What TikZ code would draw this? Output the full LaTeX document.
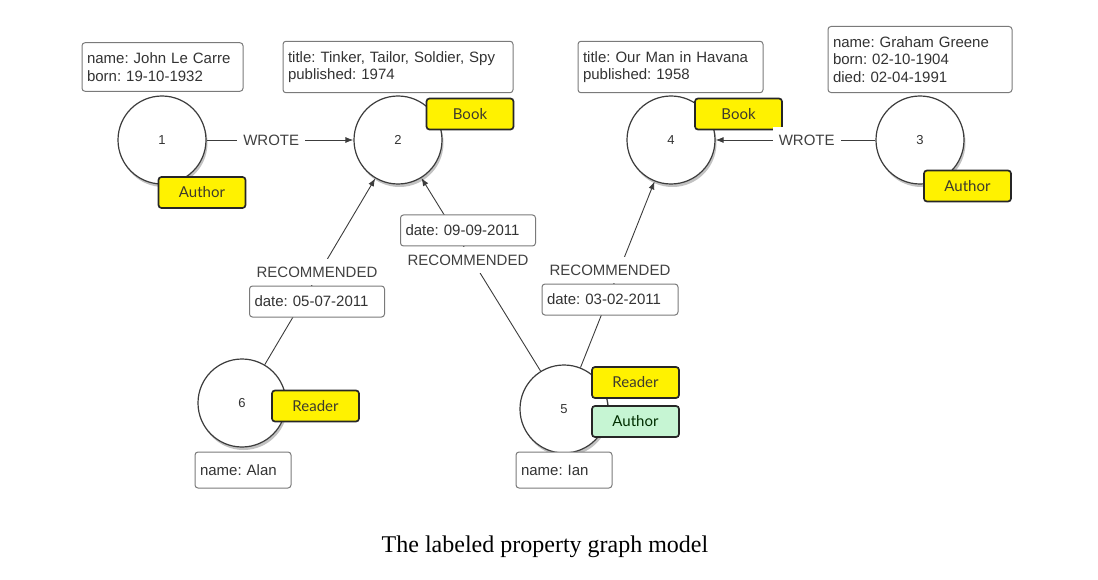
\documentclass[tikz,border=0pt]{standalone}
\usepackage{fontspec}
\setmainfont{Liberation Sans}
\newfontfamily\tagfont{Lato}
\newfontfamily\capfont{Liberation Serif}
\usetikzlibrary{arrows.meta, shadows, positioning}
\definecolor{tagyellow}{HTML}{FFF200}
\definecolor{taggreen}{HTML}{C6F5D3}
\definecolor{edgegray}{HTML}{3C3C3C}
\definecolor{boxgray}{HTML}{7A7A7A}

\begin{document}
\frenchspacing
\begin{tikzpicture}[x = 1pt, y = -1pt,
    vertex/.style = {circle, draw = edgegray, line width = 1.2pt, fill = white, minimum size = 88pt, text = black!80, font = \fontsize{13}{15}\selectfont, drop shadow = {opacity = .4, fill = black!60, shadow xshift = 1.5pt, shadow yshift = -3pt}},
    prop/.style = {draw = boxgray, line width = 1pt, rounded corners = 3pt, fill = white, align = left, inner xsep = 5pt, inner ysep = 10pt, text = black!80, font = \fontsize{15}{17.5}\selectfont},
    tag/.style = {draw = black!85, line width = 1.7pt, rounded corners = 3pt, fill = tagyellow, text = black!75!olive, minimum width = 87pt, minimum height = 31pt, font = \tagfont\fontsize{15}{17}\selectfont},
    rel/.style = {draw = edgegray, line width = .9pt, -{Latex[length = 8pt, width = 6pt]}},
    reltext/.style = {fill = white, inner xsep = 6pt, inner ysep = 8pt, text = black!75, font = \fontsize{15}{17}\selectfont}]
    \useasboundingbox (0,0) rectangle (1098,580);
    % Nodes
    \node[vertex] (n1) at (162,140) {1};
    \node[vertex] (n2) at (398,140) {2};
    \node[vertex] (n4) at (671,140) {4};
    \node[vertex] (n3) at (920,140) {3};
    \node[vertex] (n6) at (242,403) {6};
    \node[vertex] (n5) at (564,409) {5};
    % Labels
    \node[tag] (t1) at (202,192.5) {Author};
    \node[tag] (t2) at (470,114) {Book};
    \node[tag] (t4) at (738.5,114) {Book};
    \node[tag] (t3) at (967.5,186) {Author};
    \node[tag] (t6) at (315.5,406) {Reader};
    \node[tag] (t5r) at (635.5,382.5) {Reader};
    \node[tag, fill = taggreen, text = black!70!green!60!black] (t5a) at (635.5,421.5) {Author};
    % Properties
    \node[prop, text width = 151pt] (p1) at (162.5,67) {name: John Le Carre\\born: 19-10-1932};
    \node[prop, text width = 220pt] (p2) at (398,67) {title: Tinker, Tailor, Soldier, Spy\\published: 1974};
    \node[prop, text width = 175pt] (p4) at (670.5,67) {title: Our Man in Havana\\published: 1958};
    \node[prop, text width = 174pt] (p3) at (920,59.5) {name: Graham Greene\\born: 02-10-1904\\died: 02-04-1991};
    \node[prop, text width = 86pt, minimum height = 36pt] (p6) at (243,470) {name: Alan};
    \node[prop, text width = 86pt, minimum height = 36pt] (p5) at (564,470) {name: Ian};
    % Relationships
    \draw[rel] (n1) -- node[reltext, pos = .44] (w12) {WROTE} (n2);
    \draw[rel] (n3) -- node[reltext, pos = .43] (w34) {WROTE} (n4);
    \draw[rel] (n6) -- (n2);
    \draw[rel] (n5) -- (n2);
    \draw[rel] (n5) -- (n4);
    \node[reltext] (r62) at (317,272) {RECOMMENDED};
    \node[prop, text width = 125pt, below = 0pt of r62] (d62) {date: 05-07-2011};
    \node[reltext] (r52) at (468,260) {RECOMMENDED};
    \node[prop, text width = 125pt, above = 0pt of r52] (d52) {date: 09-09-2011};
    \node[reltext] (r54) at (610,270) {RECOMMENDED};
    \node[prop, text width = 126pt, below = 0pt of r54] (d54) {date: 03-02-2011};
    % Caption
    \node[font = \capfont\fontsize{24}{28}\selectfont] (caption) at (545,547) {The labeled property graph model};
\end{tikzpicture}
\end{document}
